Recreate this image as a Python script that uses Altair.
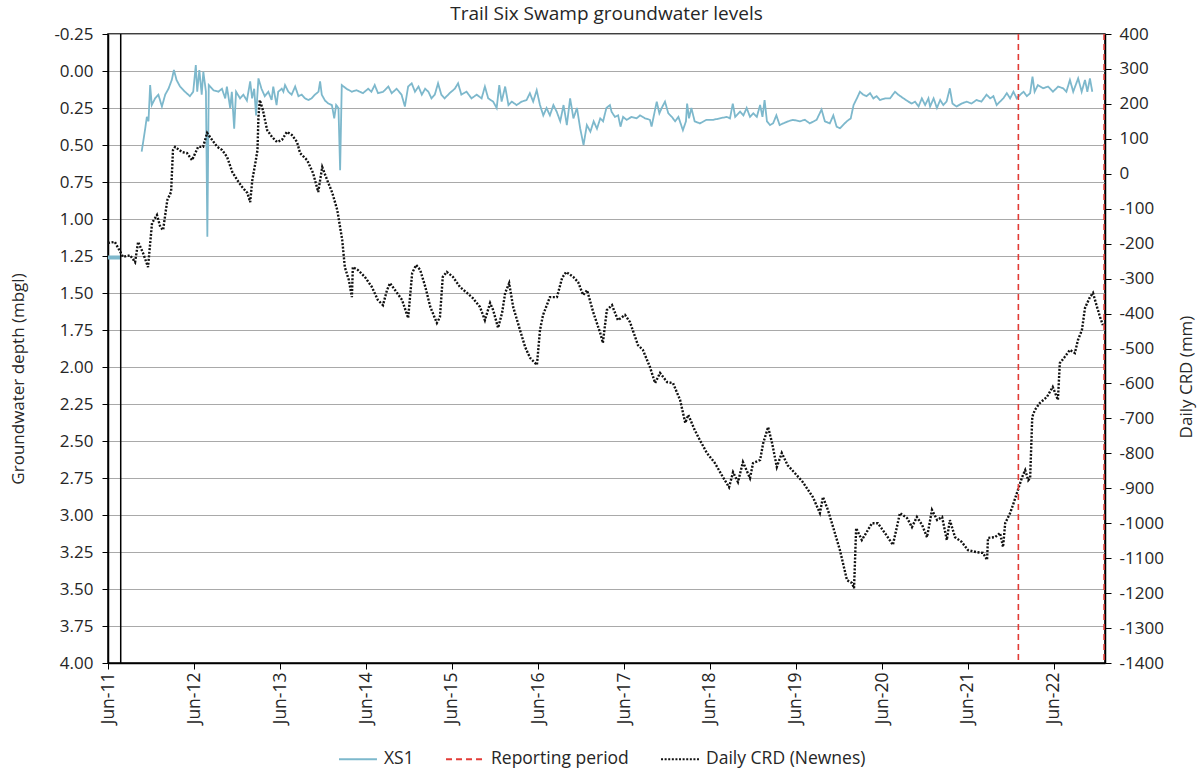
import altair as alt
import pandas as pd

# ---- XS1 piezometer: groundwater depth below ground (m) ----
xs1_start_dates = ["2011-06-01", "2011-07-24"]
xs1_start_depth = [1.26, 1.26]

xs1_dates = [
    "2011-10-22", "2011-11-06", "2011-11-13", "2011-11-20", "2011-11-27", "2011-12-04", "2011-12-18", "2012-01-01", "2012-01-16", "2012-01-30",
    "2012-02-13", "2012-02-27", "2012-03-07", "2012-03-18", "2012-04-02", "2012-04-23", "2012-05-14", "2012-05-28", "2012-06-08", "2012-06-14",
    "2012-06-23", "2012-07-03", "2012-07-10", "2012-07-21", "2012-07-27", "2012-08-02", "2012-08-22", "2012-09-12", "2012-09-27", "2012-10-11",
    "2012-10-18", "2012-11-01", "2012-11-08", "2012-11-18", "2012-11-26", "2012-12-13", "2012-12-27", "2013-01-11", "2013-01-25", "2013-02-02",
    "2013-02-11", "2013-02-19", "2013-03-01", "2013-03-14", "2013-03-28", "2013-04-12", "2013-04-26", "2013-05-03", "2013-05-17", "2013-05-24",
    "2013-06-08", "2013-06-15", "2013-06-22", "2013-07-06", "2013-07-20", "2013-08-04", "2013-08-18", "2013-09-01", "2013-09-15", "2013-09-29",
    "2013-10-13", "2013-10-27", "2013-11-11", "2013-11-18", "2013-11-25", "2013-12-09", "2013-12-23", "2014-01-07", "2014-01-17", "2014-01-25",
    "2014-02-04", "2014-02-11", "2014-02-18", "2014-03-10", "2014-04-01", "2014-04-22", "2014-05-19", "2014-06-10", "2014-06-24", "2014-07-08",
    "2014-07-22", "2014-08-13", "2014-09-04", "2014-09-18", "2014-10-09", "2014-10-30", "2014-11-13", "2014-11-27", "2014-12-12", "2014-12-26",
    "2015-01-10", "2015-01-24", "2015-02-07", "2015-02-21", "2015-03-06", "2015-03-20", "2015-04-03", "2015-04-17", "2015-05-01", "2015-05-22",
    "2015-06-13", "2015-06-27", "2015-07-11", "2015-08-02", "2015-08-23", "2015-09-14", "2015-10-05", "2015-10-19", "2015-11-02", "2015-11-23",
    "2015-12-08", "2015-12-19", "2015-12-29", "2016-01-13", "2016-01-27", "2016-02-10", "2016-03-02", "2016-03-23", "2016-04-13", "2016-04-27",
    "2016-05-11", "2016-05-26", "2016-06-09", "2016-06-23", "2016-07-07", "2016-07-21", "2016-08-05", "2016-08-19", "2016-09-03", "2016-09-17",
    "2016-10-01", "2016-10-15", "2016-10-29", "2016-11-13", "2016-11-27", "2016-12-11", "2016-12-25", "2017-01-09", "2017-01-23", "2017-02-06",
    "2017-02-20", "2017-03-04", "2017-03-18", "2017-04-02", "2017-04-09", "2017-04-23", "2017-05-07", "2017-05-17", "2017-05-28", "2017-06-12",
    "2017-07-03", "2017-07-24", "2017-08-08", "2017-08-29", "2017-09-19", "2017-09-26", "2017-10-11", "2017-10-18", "2017-10-29", "2017-11-08",
    "2017-11-22", "2017-12-06", "2017-12-21", "2018-01-04", "2018-01-18", "2018-02-06", "2018-02-19", "2018-02-24", "2018-03-04", "2018-03-14",
    "2018-03-28", "2018-04-19", "2018-05-17", "2018-06-15", "2018-07-13", "2018-08-11", "2018-08-25", "2018-09-06", "2018-09-16", "2018-10-07",
    "2018-10-21", "2018-11-04", "2018-11-18", "2018-12-02", "2018-12-17", "2018-12-31", "2019-01-10", "2019-01-19", "2019-01-29", "2019-02-11",
    "2019-02-24", "2019-03-10", "2019-03-24", "2019-04-08", "2019-04-29", "2019-05-20", "2019-06-18", "2019-07-09", "2019-07-30", "2019-08-28",
    "2019-09-18", "2019-10-02", "2019-10-23", "2019-11-07", "2019-11-21", "2019-12-05", "2020-01-03", "2020-01-20", "2020-02-01", "2020-02-15",
    "2020-02-28", "2020-03-13", "2020-03-27", "2020-04-11", "2020-04-25", "2020-05-09", "2020-05-23", "2020-06-14", "2020-07-05", "2020-07-26",
    "2020-08-09", "2020-08-31", "2020-09-21", "2020-10-05", "2020-10-19", "2020-11-03", "2020-11-17", "2020-12-01", "2020-12-15", "2020-12-22",
    "2021-01-06", "2021-01-20", "2021-02-03", "2021-02-16", "2021-03-02", "2021-03-16", "2021-03-27", "2021-04-13", "2021-05-05", "2021-05-26",
    "2021-06-16", "2021-07-07", "2021-07-28", "2021-08-19", "2021-09-03", "2021-09-17", "2021-10-01", "2021-10-15", "2021-10-29", "2021-11-13",
    "2021-11-27", "2021-12-11", "2021-12-25", "2022-01-09", "2022-01-23", "2022-02-06", "2022-02-20", "2022-03-02", "2022-03-11", "2022-03-25",
    "2022-04-16", "2022-05-07", "2022-05-28", "2022-06-19", "2022-07-10", "2022-07-24", "2022-08-08", "2022-08-22", "2022-09-12", "2022-09-27",
    "2022-10-11", "2022-10-21", "2022-11-01", "2022-11-11",
]

xs1_depth = [
    0.545, 0.39, 0.31, 0.34, 0.095, 0.23, 0.185, 0.16, 0.24, 0.16,
    0.12, 0.06, -0.007, 0.06, 0.105, 0.14, 0.17, 0.14, -0.04, 0.14,
    -0.007, 0.16, 0.005, 0.14, 1.12, 0.095, 0.13, 0.14, 0.12, 0.185,
    0.105, 0.25, 0.14, 0.39, 0.14, 0.185, 0.16, 0.2, 0.07, 0.185,
    0.12, 0.30, 0.05, 0.12, 0.17, 0.14, 0.196, 0.105, 0.23, 0.14,
    0.12, 0.14, 0.095, 0.14, 0.16, 0.105, 0.17, 0.16, 0.185, 0.196,
    0.185, 0.16, 0.14, 0.07, 0.16, 0.2, 0.22, 0.23, 0.32, 0.23,
    0.25, 0.67, 0.095, 0.12, 0.14, 0.13, 0.15, 0.12, 0.14, 0.095,
    0.15, 0.14, 0.105, 0.15, 0.12, 0.16, 0.24, 0.105, 0.083, 0.14,
    0.105, 0.16, 0.12, 0.14, 0.185, 0.16, 0.083, 0.16, 0.185, 0.15,
    0.12, 0.083, 0.16, 0.14, 0.185, 0.16, 0.185, 0.105, 0.185, 0.207,
    0.25, 0.095, 0.207, 0.105, 0.23, 0.207, 0.23, 0.207, 0.196, 0.15,
    0.207, 0.13, 0.23, 0.30, 0.25, 0.30, 0.23, 0.275, 0.34, 0.23,
    0.365, 0.185, 0.32, 0.25, 0.39, 0.50, 0.365, 0.41, 0.34, 0.39,
    0.32, 0.34, 0.25, 0.23, 0.275, 0.31, 0.30, 0.376, 0.31, 0.33,
    0.31, 0.32, 0.30, 0.32, 0.33, 0.376, 0.26, 0.207, 0.286, 0.25,
    0.207, 0.286, 0.31, 0.34, 0.31, 0.40, 0.34, 0.22, 0.32, 0.25,
    0.34, 0.354, 0.33, 0.33, 0.32, 0.31, 0.32, 0.22, 0.31, 0.275,
    0.30, 0.25, 0.31, 0.286, 0.31, 0.23, 0.31, 0.196, 0.34, 0.365,
    0.354, 0.30, 0.365, 0.354, 0.34, 0.33, 0.34, 0.33, 0.354, 0.33,
    0.26, 0.34, 0.354, 0.30, 0.376, 0.387, 0.34, 0.32, 0.23, 0.185,
    0.14, 0.16, 0.17, 0.15, 0.185, 0.17, 0.196, 0.185, 0.185, 0.14,
    0.16, 0.185, 0.207, 0.22, 0.207, 0.24, 0.185, 0.23, 0.185, 0.24,
    0.185, 0.25, 0.196, 0.23, 0.207, 0.117, 0.22, 0.24, 0.22, 0.207,
    0.22, 0.196, 0.207, 0.16, 0.185, 0.17, 0.23, 0.207, 0.185, 0.15,
    0.185, 0.14, 0.185, 0.16, 0.14, 0.17, 0.15, 0.038, 0.14, 0.095,
    0.117, 0.105, 0.14, 0.105, 0.117, 0.14, 0.06, 0.14, 0.05, 0.14,
    0.06, 0.14, 0.05, 0.14,
]

# ---- Daily cumulative rainfall departure, Newnes (mm) ----
crd_dates = [
    "2011-06-01", "2011-06-30", "2011-08-04", "2011-09-03", "2011-09-24", "2011-10-07", "2011-10-28", "2011-11-18", "2011-12-05", "2011-12-26",
    "2012-01-09", "2012-01-21", "2012-02-08", "2012-02-24", "2012-03-03", "2012-03-12", "2012-04-11", "2012-05-02", "2012-05-23", "2012-06-18",
    "2012-07-09", "2012-07-26", "2012-08-16", "2012-09-07", "2012-09-28", "2012-10-19", "2012-11-10", "2012-12-01", "2012-12-22", "2013-01-13",
    "2013-01-25", "2013-02-03", "2013-02-16", "2013-02-25", "2013-03-01", "2013-03-07", "2013-03-20", "2013-04-07", "2013-04-28", "2013-05-19",
    "2013-06-09", "2013-06-30", "2013-07-21", "2013-08-12", "2013-08-25", "2013-09-24", "2013-10-19", "2013-11-10", "2013-11-27", "2013-12-18",
    "2014-01-09", "2014-01-30", "2014-02-20", "2014-03-03", "2014-03-20", "2014-04-02", "2014-04-06", "2014-04-27", "2014-05-27", "2014-06-26",
    "2014-07-21", "2014-08-12", "2014-08-29", "2014-09-11", "2014-10-11", "2014-11-01", "2014-11-27", "2014-12-14", "2014-12-31", "2015-01-17",
    "2015-02-08", "2015-03-01", "2015-03-29", "2015-04-11", "2015-04-23", "2015-05-10", "2015-06-05", "2015-07-05", "2015-08-04", "2015-08-29",
    "2015-09-28", "2015-10-19", "2015-11-10", "2015-11-23", "2015-12-14", "2015-12-31", "2016-01-13", "2016-01-30", "2016-02-16", "2016-03-16",
    "2016-04-07", "2016-04-28", "2016-05-27", "2016-06-09", "2016-06-22", "2016-07-21", "2016-08-20", "2016-09-11", "2016-09-28", "2016-10-28",
    "2016-11-18", "2016-12-09", "2016-12-26", "2017-01-21", "2017-02-20", "2017-03-03", "2017-03-20", "2017-04-11", "2017-05-06", "2017-06-05",
    "2017-06-26", "2017-07-30", "2017-08-20", "2017-09-19", "2017-10-11", "2017-11-01", "2017-12-01", "2017-12-26", "2018-01-25", "2018-02-16",
    "2018-03-01", "2018-03-28", "2018-04-19", "2018-05-19", "2018-06-22", "2018-07-26", "2018-08-21", "2018-09-07", "2018-09-28", "2018-10-19",
    "2018-11-18", "2018-12-01", "2018-12-31", "2019-01-13", "2019-02-03", "2019-02-20", "2019-03-12", "2019-04-02", "2019-04-27", "2019-05-27",
    "2019-06-30", "2019-08-12", "2019-09-11", "2019-09-24", "2019-10-15", "2019-11-06", "2019-12-05", "2020-01-04", "2020-01-25", "2020-02-03",
    "2020-02-12", "2020-03-07", "2020-03-20", "2020-04-19", "2020-05-14", "2020-06-13", "2020-07-17", "2020-08-16", "2020-09-15", "2020-10-06",
    "2020-10-27", "2020-11-18", "2020-12-09", "2020-12-30", "2021-01-21", "2021-02-11", "2021-03-03", "2021-03-16", "2021-04-07", "2021-05-06",
    "2021-06-01", "2021-07-09", "2021-08-04", "2021-08-21", "2021-08-25", "2021-09-24", "2021-10-15", "2021-10-28", "2021-11-06", "2021-11-27",
    "2021-12-09", "2021-12-30", "2022-01-17", "2022-01-30", "2022-02-12", "2022-02-20", "2022-03-01", "2022-03-12", "2022-04-02", "2022-05-02",
    "2022-05-27", "2022-06-18", "2022-06-26", "2022-07-17", "2022-08-08", "2022-08-29", "2022-09-11", "2022-09-28", "2022-10-11", "2022-11-01",
    "2022-11-14", "2022-12-01", "2022-12-14", "2022-12-26",
]

crd_mm = [
    -198, -195, -238, -233, -253, -195, -227, -267, -141, -118,
    -152, -161, -75, -52, 68, 77, 62, 59, 39, 77,
    77, 117, 97, 77, 68, 48, 5, -18, -38, -55,
    -81, -18, 31, 68, 162, 211, 182, 125, 105, 91,
    97, 120, 111, 91, 59, 39, 2, -52, 19, -18,
    -55, -104, -190, -267, -304, -353, -267, -275, -295, -324,
    -361, -376, -333, -313, -341, -361, -413, -284, -261, -275,
    -324, -381, -427, -410, -295, -281, -295, -324, -341, -356,
    -381, -419, -370, -390, -441, -398, -341, -313, -381, -447,
    -496, -527, -547, -447, -404, -353, -353, -298, -281, -295,
    -310, -347, -333, -396, -456, -484, -390, -376, -419, -404,
    -424, -490, -504, -553, -599, -570, -596, -599, -647, -713,
    -690, -733, -762, -799, -828, -868, -897, -854, -882, -825,
    -871, -828, -819, -771, -725, -771, -839, -799, -834, -856,
    -882, -925, -971, -925, -962, -1011, -1077, -1163, -1171, -1186,
    -1014, -1048, -1034, -1000, -1000, -1028, -1062, -971, -985, -1011,
    -982, -1005, -1040, -962, -991, -982, -1048, -991, -1040, -1054,
    -1077, -1083, -1085, -1105, -1042, -1040, -1028, -1068, -1000, -971,
    -948, -905, -868, -848, -877, -871, -696, -676, -656, -639,
    -610, -647, -542, -524, -504, -513, -476, -447, -384, -353,
    -341, -381, -410, -433,
]

# ---- vertical markers ----
reporting_dates = ["2022-01-01", "2022-12-31"]
marker_dates = ["2011-07-25"]

# ---- axis ticks ----
depth_ticks = [-0.25, 0.0, 0.25, 0.5, 0.75, 1.0, 1.25, 1.5, 1.75, 2.0,
               2.25, 2.5, 2.75, 3.0, 3.25, 3.5, 3.75, 4.0]
crd_ticks = [400, 300, 200, 100, 0, -100, -200, -300, -400, -500, -600,
             -700, -800, -900, -1000, -1100, -1200, -1300, -1400]
tick_years = list(range(2011, 2023))

series_names = ["XS1", "Reporting period", "Daily CRD (Newnes)"]
series_colors = ["#7db8cc", "#e23b36", "#111111"]
series_dashes = [[1, 0], [6, 4], [2, 1.6]]

FONT = "Open Sans"
TEXT = "#262626"
W, H = 997, 629

xs1 = pd.DataFrame({
    "date": xs1_start_dates + xs1_dates,
    "depth": xs1_start_depth + xs1_depth,
    "segment": ["initial"] * len(xs1_start_dates) + ["logger"] * len(xs1_dates),
    "series": "XS1",
})
crd = pd.DataFrame({"date": crd_dates, "crd": crd_mm, "series": "Daily CRD (Newnes)"})
rep = pd.DataFrame({"date": reporting_dates, "series": "Reporting period"})
marks = pd.DataFrame({"date": marker_dates})

x_scale = alt.Scale(
    domain=[alt.DateTime(year=2011, month=6, date=1), alt.DateTime(year=2023, month=1, date=4)],
    nice=False,
)
x_axis = alt.Axis(
    values=[alt.DateTime(year=y, month=6, date=1) for y in tick_years],
    format="%b-%y", labelAngle=270, labelAlign="right", labelBaseline="middle",
    labelFontSize=17.5, labelColor=TEXT, labelPadding=3, tickSize=6, tickColor="black",
    domainColor="black", domainWidth=1.5, grid=False, title=None,
)

legend = alt.Legend(
    orient="none", legendX=230, legendY=705, direction="horizontal", title=None,
    symbolType="stroke", symbolSize=1440, symbolStrokeWidth=2,
    labelFont=FONT, labelFontSize=17.5, labelColor=TEXT, labelOffset=6, columnPadding=28,
)
color = alt.Color("series:N", scale=alt.Scale(domain=series_names, range=series_colors), legend=legend)
dash = alt.StrokeDash("series:N", scale=alt.Scale(domain=series_names, range=series_dashes), legend=legend)

minus_fix = "replace(datum.label, '\u2212', '-')"

xs1_line = alt.Chart(xs1).mark_line().encode(
    x=alt.X("date:T", scale=x_scale, axis=x_axis),
    y=alt.Y(
        "depth:Q",
        scale=alt.Scale(domain=[-0.25, 4.0], reverse=True, nice=False, zero=False),
        axis=alt.Axis(
            values=depth_ticks, format=".2f", labelExpr=minus_fix,
            labelFontSize=17, labelColor=TEXT, labelPadding=9, tickSize=6, tickColor="black",
            domainColor="black", domainWidth=1.5,
            grid=True, gridColor="#a9a9a9", gridWidth=1.2,
            title="Groundwater depth (mbgl)", titleFontSize=17, titleFontWeight="normal",
            titleColor=TEXT, titleX=-90, titleY=H / 2 + 30, titleAngle=270, titleBaseline="middle",
        ),
    ),
    color=color,
    strokeDash=dash,
    size=alt.Size("segment:N", scale=alt.Scale(domain=["initial", "logger"], range=[4, 1.8]), legend=None),
    detail="segment:N",
)

crd_line = alt.Chart(crd).mark_line(strokeWidth=2.4).encode(
    x=alt.X("date:T", scale=x_scale, axis=x_axis),
    y=alt.Y(
        "crd:Q",
        scale=alt.Scale(domain=[-1400, 400], nice=False, zero=False),
        axis=alt.Axis(
            orient="right", values=crd_ticks, format="d", labelExpr=minus_fix,
            labelFontSize=17, labelColor=TEXT, labelPadding=8, tickSize=6, tickColor="black",
            domainColor="black", domainWidth=1.5, grid=False,
            title="Daily CRD (mm)", titleFontSize=17, titleFontWeight="normal",
            titleColor=TEXT, titleX=81, titleY=H / 2 + 28, titleAngle=270, titleBaseline="middle",
        ),
    ),
    color=color,
    strokeDash=dash,
)

reporting = alt.Chart(rep).mark_rule(strokeWidth=1.6).encode(
    x=alt.X("date:T", scale=x_scale, axis=x_axis),
    color=color,
    strokeDash=dash,
)

marker = alt.Chart(marks).mark_rule(color="black", strokeWidth=1.5).encode(
    x=alt.X("date:T", scale=x_scale, axis=x_axis),
)

chart = (
    alt.layer(xs1_line, marker, crd_line, reporting)
    .resolve_scale(y="independent")
    .properties(
        width=W, height=H,
        title=alt.Title("Trail Six Swamp groundwater levels", fontSize=19, font=FONT,
                        fontWeight="normal", color=TEXT, offset=1),
        autosize=alt.AutoSizeParams(type="none"),
        padding={"left": 108, "top": 34, "right": 98, "bottom": 106},
        background="white",
    )
    .configure_view(stroke="black", strokeWidth=1.5)
    .configure_axis(labelFont=FONT, titleFont=FONT)
)

chart.save("out.html", embed_options={"renderer": "svg", "actions": False})
